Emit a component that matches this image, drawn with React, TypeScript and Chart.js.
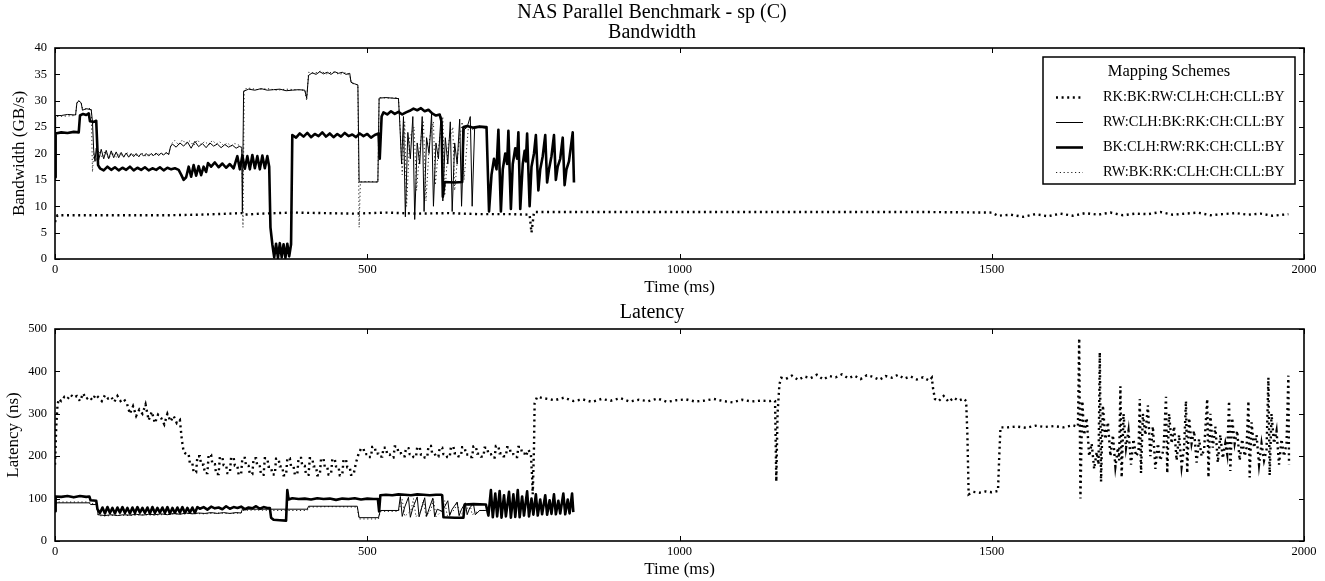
import React, { useEffect, useRef } from "react";
import { Chart, registerables } from "chart.js";

Chart.register(...registerables);

const FONT = "'Liberation Serif', 'DejaVu Serif', serif";

const seriesLabels = [
  "RK:BK:RW:CLH:CH:CLL:BY",
  "RW:CLH:BK:RK:CH:CLL:BY",
  "BK:CLH:RW:RK:CH:CLL:BY",
  "RW:BK:RK:CLH:CH:CLL:BY",
];
const timeTicks = [0, 500, 1000, 1500, 2000];
const bandwidthTicks = [0, 5, 10, 15, 20, 25, 30, 35, 40];
const latencyTicks = [0, 100, 200, 300, 400, 500];

type P = [number, number];

// ---------- Bandwidth (GB/s) ----------
const rkBkRwBw: P[] = [[0,7.0],[4,8.3],[30,8.3],[80,8.3],[130,8.3],[180,8.3],[230,8.4],[280,8.6],[299,8.7],[302,8.4],[330,8.6],[380,8.8],[430,8.7],[480,8.6],[530,8.8],[580,8.6],[630,8.7],[680,8.5],[730,8.5],[760,8.4],[763,5.0],[767,8.9],[771,8.9],[800,8.9],[850,8.9],[900,8.9],[1000,8.9],[1100,8.9],[1200,8.9],[1300,8.9],[1400,8.9],[1500,8.8],[1510,8.2],[1530,8.4],[1550,8.0],[1570,8.5],[1590,8.1],[1610,8.6],[1630,8.2],[1650,8.7],[1670,8.4],[1690,8.8],[1710,8.3],[1730,8.6],[1750,8.5],[1770,8.9],[1790,8.4],[1810,8.6],[1830,8.8],[1850,8.3],[1870,8.5],[1890,8.7],[1910,8.4],[1930,8.6],[1950,8.2],[1975,8.5]];

const rwClhBw: P[] = [[0,15.0],[1,27.2],[10,27.2],[20,27.4],[33,27.3],[35,29.5],[38,30.0],[42,29.6],[44,28.2],[50,28.5],[58,28.3],[60,26.0],[62,20.5],[64,18.5],[66,21.0],[70,18.8],[74,20.8],[78,19.0],[82,20.6],[86,19.0],[90,20.5],[94,19.2],[98,20.3],[102,19.2],[106,20.2],[110,19.3],[114,20.1],[118,19.3],[122,20.0],[126,19.4],[130,20.0],[134,19.4],[138,20.0],[142,19.5],[146,20.0],[150,19.5],[154,20.0],[158,19.6],[162,20.1],[166,19.6],[170,20.1],[174,19.7],[178,20.2],[182,19.8],[185,21.3],[188,21.8],[194,21.2],[200,22.0],[206,21.4],[212,22.2],[218,21.0],[224,22.3],[230,21.3],[236,21.9],[242,21.1],[248,22.0],[254,21.4],[260,21.8],[266,21.1],[272,21.7],[278,21.2],[284,21.6],[290,21.0],[296,21.4],[299,21.0],[300,9.0],[302,31.8],[310,32.2],[320,32.0],[330,32.3],[340,32.0],[350,32.1],[360,32.2],[370,31.9],[380,32.0],[390,32.1],[400,32.0],[403,30.5],[406,34.8],[412,35.3],[418,35.0],[424,35.5],[430,35.1],[436,35.4],[442,35.0],[448,35.5],[454,35.2],[460,35.4],[466,35.0],[472,35.2],[474,33.5],[480,33.2],[485,33.0],[487,14.6],[500,14.6],[517,14.6],[519,30.5],[530,30.6],[540,30.5],[550,30.4],[552,26.0],[555,18.0],[558,27.0],[561,8.0],[565,24.0],[569,19.0],[573,27.0],[576,7.5],[580,22.0],[584,18.0],[588,27.0],[591,9.0],[595,23.0],[599,20.0],[603,27.5],[606,10.0],[610,22.0],[614,19.0],[618,27.0],[621,11.0],[625,23.0],[629,18.0],[633,26.0],[636,9.0],[640,22.0],[644,18.0],[648,26.5],[651,10.0],[655,24.5],[660,25.0],[665,27.0],[668,10.0],[672,25.0],[680,25.0],[690,24.8]];

const bkClhBw: P[] = [[0,15.5],[1,23.8],[10,24.0],[20,23.9],[30,24.1],[38,24.0],[40,27.2],[45,27.5],[50,27.3],[54,27.6],[56,26.1],[62,26.0],[66,26.2],[69,17.8],[72,17.2],[78,16.8],[84,17.5],[90,16.9],[96,17.4],[102,16.8],[108,17.3],[114,16.9],[120,17.5],[126,16.8],[132,17.3],[138,16.9],[144,17.4],[150,16.8],[156,17.2],[162,16.9],[168,17.4],[174,16.8],[180,17.3],[186,17.0],[192,17.2],[198,16.9],[202,16.0],[206,15.0],[210,15.5],[214,17.5],[218,15.6],[222,17.8],[226,15.8],[230,17.6],[234,15.9],[238,17.5],[242,16.5],[245,18.2],[250,17.5],[256,18.3],[262,17.4],[268,18.1],[274,17.3],[280,18.0],[286,17.2],[292,19.5],[296,17.0],[300,19.6],[304,17.1],[308,19.5],[312,17.0],[316,19.7],[320,17.2],[324,19.5],[328,17.0],[332,19.6],[336,17.2],[340,19.5],[343,17.5],[345,6.0],[348,2.8],[351,0.3],[354,2.9],[357,0.2],[360,3.0],[363,0.3],[366,2.8],[369,0.2],[372,2.9],[375,0.5],[378,2.8],[380,23.5],[386,23.0],[392,23.8],[398,23.2],[404,23.9],[410,23.1],[416,23.7],[422,23.3],[428,24.0],[434,23.2],[440,23.8],[446,23.1],[452,23.7],[458,23.2],[464,23.9],[470,23.3],[476,23.6],[482,23.1],[488,23.8],[494,23.3],[500,23.7],[506,23.0],[512,23.5],[518,23.8],[520,19.0],[523,27.0],[526,27.8],[532,27.4],[538,28.0],[544,27.5],[550,27.9],[556,27.4],[562,27.8],[568,28.1],[574,28.5],[580,28.2],[586,28.6],[592,28.0],[598,28.3],[604,27.6],[610,27.2],[616,27.4],[619,26.0],[621,11.8],[624,14.6],[640,14.5],[652,14.6],[654,25.0],[660,25.2],[670,24.9],[680,25.1],[690,25.0],[691,25.0],[695,9.0],[699,16.0],[703,19.0],[707,17.0],[710,24.5],[714,9.0],[717,17.0],[721,20.0],[724,18.0],[726,24.3],[730,9.5],[733,18.0],[737,21.0],[740,19.0],[742,24.0],[745,9.5],[749,18.0],[752,20.5],[754,18.5],[756,23.8],[760,10.0],[763,17.5],[767,20.0],[770,23.5],[774,13.0],[777,17.0],[781,19.5],[785,23.5],[788,14.5],[791,17.0],[795,19.5],[799,23.5],[802,15.0],[805,17.5],[809,19.0],[813,23.0],[816,14.0],[819,17.0],[823,18.5],[829,24.0],[831,14.5]];

const rwBkBw: P[] = [[0,26.5],[2,27.0],[33,27.2],[35,29.8],[38,30.0],[42,29.4],[44,28.6],[50,28.4],[58,28.6],[60,16.5],[62,20.0],[66,18.5],[70,20.6],[75,19.2],[80,20.4],[86,19.0],[92,20.2],[98,19.3],[104,20.0],[110,19.4],[116,20.1],[122,19.5],[128,19.9],[134,19.4],[140,20.0],[146,19.5],[152,19.9],[158,19.6],[164,20.0],[170,19.7],[176,20.1],[182,19.8],[186,21.8],[192,22.5],[198,21.6],[204,22.6],[210,21.8],[216,22.4],[222,21.5],[228,22.6],[234,21.7],[240,22.3],[246,21.6],[252,22.5],[258,21.8],[264,22.2],[270,21.5],[276,22.0],[282,21.4],[288,21.9],[294,21.6],[299,21.2],[301,6.0],[303,32.2],[310,32.4],[325,32.1],[340,32.3],[355,32.0],[370,32.2],[385,32.1],[400,32.0],[403,30.0],[406,35.4],[415,35.2],[425,35.6],[435,35.1],[445,35.5],[455,35.0],[465,35.3],[472,34.8],[475,33.3],[485,33.0],[487,6.0],[489,14.6],[500,14.7],[517,14.6],[519,30.6],[535,30.5],[550,30.6],[553,24.0],[556,16.0],[560,26.0],[563,10.0],[568,23.0],[575,25.0],[579,13.0],[585,22.0],[590,26.0],[594,11.0],[600,23.0],[606,26.0],[609,14.0],[615,22.0],[621,27.0],[624,12.0],[630,22.0],[637,25.0],[640,13.0],[646,21.0],[652,26.0],[655,15.0],[662,25.0],[670,24.5],[680,25.2],[688,25.0]];

// ---------- Latency (ns) ----------
const rkBkRwLat: P[] = [[0,180],[2,270],[4,320],[6,335],[10,330],[15,340],[20,335],[25,345],[30,338],[35,342],[40,330],[45,348],[50,335],[55,340],[60,332],[65,345],[70,338],[75,330],[80,344],[85,336],[90,340],[95,328],[100,342],[105,330],[110,335],[115,325],[120,300],[125,318],[130,295],[135,310],[140,300],[145,322],[150,285],[155,305],[160,278],[165,298],[170,290],[175,275],[180,300],[185,282],[190,295],[195,278],[200,285],
[203,240],[206,210],[210,205],[214,205],[216,183],[220,183],[222,162],[226,162],[228,200],[232,200],[234,180],[238,180],[240,160],[244,160],[246,203],[250,203],[252,181],[256,181],[258,158],[262,158],[264,198],[268,198],[270,179],[274,179],[276,160],[280,160],[282,197],[286,197],[288,178],[292,178],[294,157],[298,157],[300,196],[304,196],[306,177],[310,177],[312,158],[316,158],[318,195],[322,195],[324,176],[328,176],[330,156],[334,156],[336,195],[340,195],[342,175],[346,175],[348,157],[352,157],[354,194],[358,194],[360,176],[364,176],[366,155],[370,155],[372,195],[376,195],[378,176],[382,176],[384,157],[388,157],[390,196],[394,196],[396,177],[400,177],[402,156],[406,156],[408,195],[412,195],[414,176],[418,176],[420,155],[424,155],[426,194],[430,194],[432,175],[436,175],[438,157],[442,157],[444,193],[448,193],[450,176],[454,176],[456,155],[460,155],[462,192],[466,192],[468,174],[472,174],[474,156],[478,156],[482,185],
[486,205],[490,218],[494,218],[496,205],[500,205],[502,198],[506,198],[508,222],[512,222],[514,206],[518,206],[520,199],[524,199],[526,220],[530,220],[532,204],[536,204],[538,197],[542,197],[544,223],[548,223],[550,207],[554,207],[556,200],[560,200],[562,219],[566,219],[568,205],[572,205],[574,198],[578,198],[580,221],[584,221],[586,204],[590,204],[592,197],[596,197],[598,224],[602,224],[604,206],[608,206],[610,199],[614,199],[616,220],[620,220],[622,205],[626,205],[628,198],[632,198],[634,222],[638,222],[640,207],[644,207],[646,200],[650,200],[652,221],[656,221],[658,204],[662,204],[664,198],[668,198],[670,223],[674,223],[676,206],[680,206],[682,199],[686,199],[688,220],[692,220],[694,205],[698,205],[700,197],[704,197],[706,224],[710,224],[712,207],[716,207],[718,200],[722,200],[724,221],[728,221],[730,205],[734,205],[736,198],[740,198],[742,222],[746,222],[748,206],[752,206],[754,200],[758,215],
[762,205],[764,150],[765,110],[767,220],[768,325],[772,340],[785,336],[800,332],[815,338],[830,330],[845,334],[860,328],[875,335],[890,331],[905,337],[920,329],[935,333],[950,330],[965,336],[980,328],[995,332],[1010,334],[1025,329],[1040,331],[1055,335],[1070,330],[1085,327],[1100,333],[1115,329],[1130,331],[1145,330],[1150,332],
[1153,330],[1155,140],[1157,300],[1160,370],[1163,385],[1170,382],[1180,390],[1190,380],[1200,388],[1210,384],[1220,392],[1230,381],[1240,389],[1250,386],[1260,393],[1270,384],[1280,390],[1290,382],[1300,391],[1310,387],[1320,380],[1330,389],[1340,385],[1350,392],[1360,383],[1370,388],[1380,381],[1390,386],[1400,378],[1404,385],[1406,360],[1409,335],[1415,330],[1423,342],[1431,328],[1439,338],[1447,331],[1455,336],[1459,330],[1461,250],[1463,110],[1470,116],[1480,114],[1490,117],[1500,115],[1510,118],[1512,200],[1514,268],[1525,268],[1540,270],[1555,267],[1570,272],[1585,269],[1600,271],[1615,268],[1630,273],[1636,270],
[1638,270],[1640,478],[1642,100],[1645,330],[1648,250],[1652,290],[1656,200],[1660,230],[1664,170],[1668,210],[1671,180],[1673,445],[1675,140],[1678,320],[1682,240],[1686,280],[1690,200],[1694,250],[1698,175],[1702,220],[1704,190],[1706,365],[1708,150],[1711,300],[1715,220],[1719,260],[1723,180],[1727,240],[1731,200],[1735,210],[1737,335],[1739,160],[1742,300],[1746,250],[1750,320],[1754,200],[1758,270],[1762,170],[1766,230],[1770,190],[1775,215],[1779,340],[1781,160],[1784,300],[1788,230],[1792,270],[1796,190],[1800,250],[1804,175],[1808,220],[1811,330],[1813,160],[1816,290],[1820,230],[1824,260],[1828,185],[1832,240],[1836,200],[1840,215],[1845,335],[1847,150],[1850,300],[1854,220],[1858,270],[1862,185],[1866,250],[1870,195],[1874,230],[1877,205],[1880,330],[1882,165],[1885,290],[1889,230],[1893,260],[1897,190],[1901,240],[1905,200],[1908,220],[1911,330],[1913,150],[1916,280],[1920,220],[1924,250],[1928,180],[1932,230],[1936,190],[1940,215],[1943,385],[1945,155],[1948,300],[1952,230],[1956,260],[1960,180],[1964,240],[1968,200],[1972,230],[1975,390],[1976,180]];

const rwClhLat: P[] = [[0,80],[2,90],[55,90],[57,86],[67,86],[69,62],[80,60],[90,62],[100,60],[110,62],[120,61],[130,63],[140,61],[150,63],[160,62],[170,64],[180,62],[190,65],[200,63],[210,66],[220,64],[230,66],[240,65],[250,67],[260,65],[270,67],[280,65],[290,67],[298,66],[300,75],[404,75],[406,82],[484,82],[487,55],[518,55],[521,72],[550,72],[553,105],[556,58],[560,80],[566,103],[569,56],[573,78],[580,104],[583,57],[587,78],[592,102],[595,58],[599,76],[605,101],[608,57],[612,75],[620,70],[629,95],[632,60],[636,75],[644,92],[647,60],[651,75],[657,90],[660,62],[664,78],[670,88],[673,62],[680,72],[690,72]];

const bkClhLat: P[] = [[0,70],[1,105],[10,104],[20,106],[30,103],[40,106],[50,104],[55,105],[57,96],[66,95],[68,75],[72,66],[76,79],[80,65],[84,80],[88,66],[92,78],[96,65],[100,79],[104,67],[108,80],[112,66],[116,78],[120,65],[124,79],[128,66],[132,80],[136,67],[140,78],[144,66],[148,79],[152,65],[156,80],[160,66],[164,78],[168,67],[172,79],[176,66],[180,80],[184,65],[188,78],[192,66],[196,79],[200,67],[204,80],[208,66],[212,78],[216,67],[220,79],[224,66],[228,80],[232,76],[238,80],[244,74],[250,81],[256,77],[262,79],[268,75],[274,82],[280,76],[286,80],[292,78],[298,81],[304,75],[310,79],[316,77],[322,82],[328,76],[334,80],[340,78],[344,78],[346,55],[350,50],[360,49],[370,48],[372,120],[374,98],[380,101],[390,99],[400,100],[410,98],[420,101],[430,99],[440,100],[450,97],[460,100],[470,99],[480,101],[490,98],[500,100],[510,99],[517,99],[519,70],[521,108],[530,109],[540,108],[550,110],[560,109],[570,108],[580,110],[590,109],[600,108],[610,109],[618,109],[620,108],[622,56],[640,55],[654,55],[656,86],[670,87],[690,86],[694,60],[698,120],[701,56],[705,112],[708,58],[712,118],[715,55],[719,108],[722,58],[727,116],[730,55],[734,110],[737,57],[741,120],[744,56],[748,105],[751,60],[756,117],[759,58],[763,100],[766,62],[770,110],[773,60],[777,98],[780,63],[785,108],[788,62],[792,96],[795,64],[799,110],[802,63],[806,95],[809,65],[814,112],[817,63],[821,98],[824,65],[828,112],[830,68]];

const rwBkLat: P[] = [[0,80],[2,92],[55,92],[57,88],[67,88],[69,60],[80,59],[100,61],[120,60],[140,62],[160,61],[180,63],[200,64],[220,65],[240,64],[260,66],[280,65],[298,66],[300,72],[320,73],[360,72],[404,72],[406,80],[440,81],[484,80],[487,52],[518,52],[521,70],[550,70],[556,98],[560,58],[570,72],[574,100],[578,57],[586,72],[590,97],[594,58],[602,74],[606,99],[610,57],[620,72],[624,95],[628,60],[640,74],[644,92],[648,60],[660,76],[664,90],[668,62],[680,72],[690,72]];

const bandwidthSeries = [rkBkRwBw, rwClhBw, bkClhBw, rwBkBw];
const latencySeries = [rkBkRwLat, rwClhLat, bkClhLat, rwBkLat];

const seriesStyles: any[] = [
  { borderWidth: 2.4, borderDash: [2, 3.6], order: 0, borderColor: "#000" },
  { borderWidth: 1, borderDash: [], order: 2, borderColor: "#000" },
  { borderWidth: 2.6, borderDash: [], order: 1, borderColor: "#000", borderJoinStyle: "round" },
  { borderWidth: 1, borderDash: [1.2, 2.6], order: 3, borderColor: "#222" },
];

const framePlugin = {
  id: "frameTicks",
  afterDatasetsDraw(chart: any) {
    const { ctx, chartArea } = chart;
    const { left, right, top, bottom } = chartArea;
    const xs = chart.scales.x;
    const ys = chart.scales.y;
    const L = 5;
    ctx.save();
    ctx.strokeStyle = "#000";
    ctx.lineWidth = 1;
    ctx.setLineDash([]);
    ctx.beginPath();
    xs.ticks.forEach((t: any) => {
      const px = Math.round(xs.getPixelForValue(t.value)) + 0.5;
      ctx.moveTo(px, bottom);
      ctx.lineTo(px, bottom - L);
      ctx.moveTo(px, top);
      ctx.lineTo(px, top + L);
    });
    ys.ticks.forEach((t: any) => {
      const py = Math.round(ys.getPixelForValue(t.value)) + 0.5;
      ctx.moveTo(left, py);
      ctx.lineTo(left + L, py);
      ctx.moveTo(right, py);
      ctx.lineTo(right - L, py);
    });
    ctx.stroke();
    ctx.lineWidth = 1.6;
    ctx.strokeRect(left, top, right - left, bottom - top);
    ctx.restore();
  },
};

const legendPlugin = {
  id: "schemesLegend",
  afterDraw(chart: any) {
    const { ctx, chartArea } = chart;
    const w = 252;
    const h = 127;
    const x0 = chartArea.right - 9 - w;
    const y0 = chartArea.top + 9;
    ctx.save();
    ctx.fillStyle = "#fff";
    ctx.fillRect(x0, y0, w, h);
    ctx.strokeStyle = "#000";
    ctx.lineWidth = 1.5;
    ctx.setLineDash([]);
    ctx.strokeRect(x0, y0, w, h);
    ctx.fillStyle = "#000";
    ctx.textBaseline = "middle";
    ctx.textAlign = "center";
    ctx.font = `16.5px ${FONT}`;
    ctx.fillText("Mapping Schemes", x0 + w / 2, y0 + 15);
    ctx.textAlign = "left";
    ctx.font = `14.4px ${FONT}`;
    chart.data.datasets.forEach((ds: any, i: number) => {
      const yy = y0 + 40.5 + i * 25;
      ctx.strokeStyle = ds.borderColor;
      ctx.lineWidth = ds.borderWidth;
      ctx.setLineDash(ds.borderDash || []);
      ctx.beginPath();
      ctx.moveTo(x0 + 13, yy);
      ctx.lineTo(x0 + 40, yy);
      ctx.stroke();
      ctx.setLineDash([]);
      ctx.fillStyle = "#000";
      ctx.fillText(ds.label, x0 + 60, yy);
    });
    ctx.restore();
  },
};

function makeConfig(opts: {
  series: P[][];
  yTicks: number[];
  yMax: number;
  yLabel: string;
  yLabelPad: number;
  title: string;
  subtitle?: string;
  xAxisHeight: number;
  xTitlePad: number;
  legend: boolean;
}): any {
  const titleFont = { family: FONT, size: 20, weight: "normal", lineHeight: 1 };
  const tickFont = { family: FONT, size: 12.5 };
  const axisFont = { family: FONT, size: 17 };
  return {
    type: "line",
    data: {
      datasets: opts.series.map((s, i) => ({
        label: seriesLabels[i],
        data: s.map(([x, y]) => ({ x, y })),
        pointRadius: 0,
        tension: 0,
        fill: false,
        borderCapStyle: "butt",
        ...seriesStyles[i],
      })),
    },
    options: {
      responsive: false,
      animation: false,
      events: [],
      layout: { padding: { left: 0, right: 21, top: 0, bottom: 0 } },
      plugins: {
        legend: { display: false },
        tooltip: { enabled: false },
        title: {
          display: true,
          text: opts.title,
          color: "#000",
          font: titleFont,
          padding: { top: 3, bottom: opts.subtitle ? 0 : 6 },
        },
        subtitle: {
          display: !!opts.subtitle,
          text: opts.subtitle || "",
          color: "#000",
          font: titleFont,
          padding: { top: 0, bottom: 5 },
        },
      },
      scales: {
        x: {
          type: "linear",
          min: 0,
          max: 2000,
          afterBuildTicks: (scale: any) => {
            scale.ticks = timeTicks.map((v) => ({ value: v }));
          },
          afterFit: (scale: any) => {
            scale.height = opts.xAxisHeight;
          },
          grid: { display: false, drawTicks: false },
          border: { display: false },
          ticks: {
            font: tickFont,
            color: "#000",
            padding: 3,
            maxRotation: 0,
            autoSkip: false,
            callback: (v: any) => String(v),
          },
          title: {
            display: true,
            text: "Time (ms)",
            color: "#000",
            font: axisFont,
            padding: { top: 0, bottom: opts.xTitlePad },
          },
        },
        y: {
          type: "linear",
          min: 0,
          max: opts.yMax,
          afterBuildTicks: (scale: any) => {
            scale.ticks = opts.yTicks.map((v) => ({ value: v }));
          },
          afterFit: (scale: any) => {
            scale.width = 55;
          },
          grid: { display: false, drawTicks: false },
          border: { display: false },
          ticks: {
            font: tickFont,
            color: "#000",
            padding: 8,
            autoSkip: false,
            callback: (v: any) => String(v),
          },
          title: {
            display: true,
            text: opts.yLabel,
            color: "#000",
            font: axisFont,
            padding: { top: opts.yLabelPad, bottom: 0 },
          },
        },
      },
    },
    plugins: opts.legend ? [framePlugin, legendPlugin] : [framePlugin],
  };
}

export default function App() {
  const topRef = useRef<HTMLCanvasElement>(null);
  const botRef = useRef<HTMLCanvasElement>(null);

  useEffect(() => {
    const top = new Chart(
      topRef.current as HTMLCanvasElement,
      makeConfig({
        series: bandwidthSeries,
        yTicks: bandwidthTicks,
        yMax: 40,
        yLabel: "Bandwidth (GB/s)",
        yLabelPad: 9.8,
        title: "NAS Parallel Benchmark - sp (C)",
        subtitle: "Bandwidth",
        xAxisHeight: 41,
        xTitlePad: 2.5,
        legend: true,
      })
    );
    const bottom = new Chart(
      botRef.current as HTMLCanvasElement,
      makeConfig({
        series: latencySeries,
        yTicks: latencyTicks,
        yMax: 500,
        yLabel: "Latency (ns)",
        yLabelPad: 3.8,
        title: "Latency",
        xAxisHeight: 40,
        xTitlePad: 1.5,
        legend: false,
      })
    );
    return () => {
      top.destroy();
      bottom.destroy();
    };
  }, []);

  return (
    <div style={{ position: "absolute", left: 0, top: 0, width: 1325, height: 581, background: "#fff" }}>
      <canvas ref={topRef} width={1325} height={300} style={{ display: "block", width: 1325, height: 300 }} />
      <canvas ref={botRef} width={1325} height={281} style={{ display: "block", width: 1325, height: 281 }} />
    </div>
  );
}
